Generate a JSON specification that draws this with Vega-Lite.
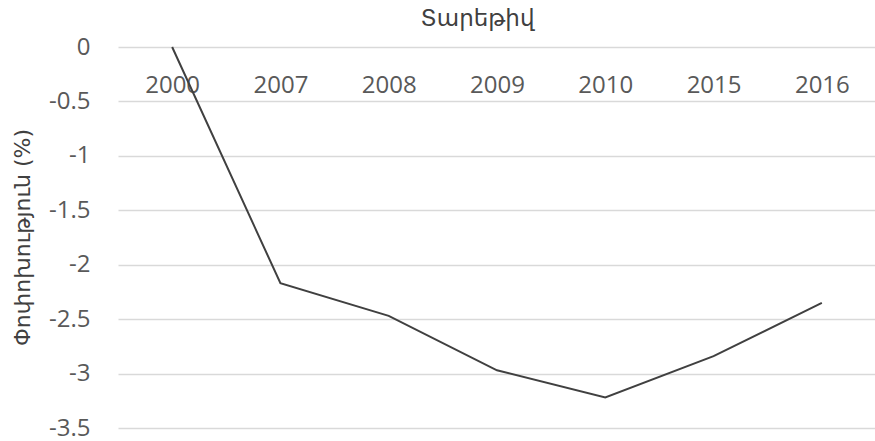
{
  "$schema": "https://vega.github.io/schema/vega-lite/v6.json",
  "width": 758,
  "height": 381,
  "autosize": {"type": "none"},
  "padding": {"left": 118, "top": 47, "right": 0, "bottom": 13},
  "background": "white",
  "config": {"view": {"stroke": null}},
  "data": {
    "values": [
      {"year": "2000", "change": 0},
      {"year": "2007", "change": -2.17},
      {"year": "2008", "change": -2.47},
      {"year": "2009", "change": -2.97},
      {"year": "2010", "change": -3.22},
      {"year": "2015", "change": -2.84},
      {"year": "2016", "change": -2.35}
    ]
  },
  "mark": {"type": "line", "color": "#404040", "strokeWidth": 2},
  "encoding": {
    "x": {
      "field": "year",
      "type": "ordinal",
      "scale": {"type": "point", "padding": 0.5},
      "axis": {
        "orient": "top",
        "title": "Տարեթիվ",
        "titleFont": "DejaVu Sans",
        "titleFontSize": 23,
        "titleFontWeight": "normal",
        "titleColor": "#404040",
        "titleX": 359,
        "titleY": -29,
        "titleBaseline": "middle",
        "titleAnchor": "middle",
        "labelFont": "Open Sans",
        "labelFontSize": 24,
        "labelColor": "#595959",
        "labelAngle": 0,
        "labelBaseline": "middle",
        "labelPadding": -38,
        "ticks": false,
        "tickSize": 0,
        "domain": false,
        "grid": false
      }
    },
    "y": {
      "field": "change",
      "type": "quantitative",
      "scale": {"domain": [-3.5, 0], "nice": false, "zero": false},
      "axis": {
        "values": [0, -0.5, -1, -1.5, -2, -2.5, -3, -3.5],
        "labelExpr": "'' + datum.value",
        "title": "Փոփոխություն (%)",
        "titleFont": "DejaVu Sans",
        "titleFontSize": 22,
        "titleFontWeight": "normal",
        "titleColor": "#404040",
        "titleX": -96,
        "titleY": 190,
        "titleBaseline": "middle",
        "titleAnchor": "middle",
        "labelFont": "Open Sans",
        "labelFontSize": 24,
        "labelColor": "#595959",
        "labelPadding": 28,
        "ticks": false,
        "tickSize": 0,
        "domain": false,
        "grid": true,
        "gridColor": "#d9d9d9",
        "gridWidth": 1.5
      }
    }
  }
}
